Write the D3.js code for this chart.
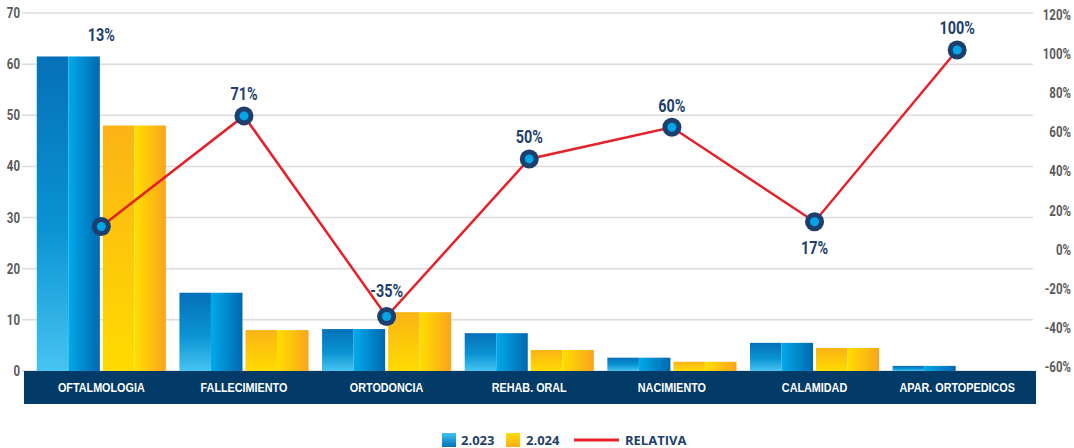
<!DOCTYPE html>
<html>
<head>
<meta charset="utf-8">
<script src="https://d3js.org/d3.v7.min.js"></script>
<style>
  html, body { margin: 0; padding: 0; background: #fff; }
  svg { display: block; }
</style>
</head>
<body>
<div id="chart"></div>
<script>
// data
const categories = ['OFTALMOLOGIA', 'FALLECIMIENTO', 'ORTODONCIA', 'REHAB. ORAL', 'NACIMIENTO', 'CALAMIDAD', 'APAR. ORTOPEDICOS'];
const values2023 = [61.5, 15.3, 8.2, 7.4, 2.6, 5.5, 1.0];
const values2024 = [48.0, 8.0, 11.5, 4.1, 1.8, 4.5, 0];
const relativa = [11.8, 68.4, -34.2, 46.4, 62.6, 14.3, 102.1];
const relativaLabels = ['13%', '71%', '-35%', '50%', '60%', '17%', '100%'];
const leftTicks = [0, 10, 20, 30, 40, 50, 60, 70];
const rightTicks = [-60, -40, -20, 0, 20, 40, 60, 80, 100, 120];
const seriesNames = ['2.023', '2.024'];

const W = 1074, H = 448;
const navy = '#023a68';
const labelNavy = '#1d3f6c';
const red = '#e52229';
const condFont = 'Roboto, "Liberation Sans", sans-serif';

const svg = d3.select('#chart').append('svg').attr('width', W).attr('height', H);
const defs = svg.append('defs');

function grad(id, x2, y2, stops) {
  const g = defs.append('linearGradient').attr('id', id)
    .attr('x1', 0).attr('y1', 0).attr('x2', x2).attr('y2', y2);
  stops.forEach(([o, c]) => g.append('stop').attr('offset', o).attr('stop-color', c));
}
grad('blueV', 0, 1, [[0, '#0570b8'], [0.55, '#0a93d3'], [1, '#47c4f1']]);
grad('blueH', 1, 0, [[0, '#00aaea'], [1, '#0068b0']]);
grad('yelV', 0, 1, [[0, '#fbb316'], [1, '#ffdb00']]);
grad('yelH', 1, 0, [[0, '#ffde00'], [1, '#f9a41c']]);
grad('legBlue', 0, 1, [[0, '#42c2f1'], [1, '#0070b8']]);
grad('legYel', 0, 1, [[0, '#ffdd00'], [1, '#fbaf17']]);

const x0 = d3.scaleBand().domain(categories).range([30, 1028.5]).paddingInner(0.095).paddingOuter(0.0475);
const x1 = d3.scaleBand().domain([0, 1]).range([0, x0.bandwidth()]).paddingInner(0.045);
const y = d3.scaleLinear().domain([0, 70]).range([371, 13]);
const yR = d3.scaleLinear().domain([-60, 120]).range([367, 15]);

// condensed look: squeeze text horizontally
function squeezed(sel, fx, fy, sx) {
  return sel.attr('x', 0).attr('y', 0)
    .attr('transform', (d, i) => `translate(${fx(d, i)},${fy(d, i)}) scale(${sx},1)`);
}

// gridlines
svg.append('g').selectAll('line').data(leftTicks).join('line')
  .attr('x1', 22).attr('x2', 1033)
  .attr('y1', d => y(d)).attr('y2', d => y(d))
  .attr('stroke', '#dcdcdc').attr('stroke-width', 1.5);

// left axis labels
squeezed(svg.append('g').selectAll('text').data(leftTicks).join('text'), () => 20, d => y(d), 0.82)
  .attr('dy', '0.36em')
  .attr('text-anchor', 'end').attr('font-family', condFont).attr('font-size', 14).attr('font-weight', 'bold')
  .attr('fill', '#5a5a5a').text(d => d);

// right axis labels
squeezed(svg.append('g').selectAll('text').data(rightTicks).join('text'), () => 1071, d => yR(d), 0.82)
  .attr('dy', '0.36em')
  .attr('text-anchor', 'end').attr('font-family', condFont).attr('font-size', 14).attr('font-weight', 'bold')
  .attr('fill', '#5a5a5a').text(d => d + '%');

// bars
const rows = categories.map((c, i) => ({ cat: c, vals: [values2023[i], values2024[i]] }));
const groups = svg.append('g').selectAll('g').data(rows).join('g')
  .attr('transform', d => `translate(${x0(d.cat)},0)`);

groups.each(function (d) {
  const g = d3.select(this);
  d.vals.forEach((v, k) => {
    if (v <= 0) return;
    const bx = x1(k), bw = x1.bandwidth(), top = y(v), h = y(0) - y(v);
    const half = bw / 2;
    g.append('rect').attr('x', bx).attr('y', top).attr('width', half).attr('height', h)
      .attr('fill', k === 0 ? 'url(#blueV)' : 'url(#yelV)');
    g.append('rect').attr('x', bx + half).attr('y', top).attr('width', bw - half).attr('height', h)
      .attr('fill', k === 0 ? 'url(#blueH)' : 'url(#yelH)');
  });
});

// category band
svg.append('rect').attr('x', 24).attr('y', 371).attr('width', 1012).attr('height', 33).attr('fill', navy);
squeezed(svg.append('g').selectAll('text').data(categories).join('text'),
  d => x0(d) + x0.bandwidth() / 2, () => 388, 0.9)
  .attr('dy', '0.36em')
  .attr('text-anchor', 'middle')
  .attr('font-family', '"Liberation Sans", Arial, sans-serif')
  .attr('font-size', 12).attr('font-weight', 'bold').attr('fill', '#fff')
  .text(d => d);

// line
const pts = categories.map((c, i) => ({
  cat: c, v: relativa[i], label: relativaLabels[i],
  x: x0(c) + x0.bandwidth() / 2, y: yR(relativa[i]),
  barTop: y(Math.max(values2023[i], values2024[i]))
}));
svg.append('path').datum(pts)
  .attr('d', d3.line().x(d => d.x).y(d => d.y))
  .attr('fill', 'none').attr('stroke', red).attr('stroke-width', 2.5);

svg.append('g').selectAll('circle').data(pts).join('circle')
  .attr('cx', d => d.x).attr('cy', d => d.y).attr('r', 9.5).attr('fill', '#1d3f6e');
svg.append('g').selectAll('circle').data(pts).join('circle')
  .attr('cx', d => d.x).attr('cy', d => d.y).attr('r', 4.5).attr('fill', '#00a6e8');

// value labels: below at local minima with room under them, otherwise above
function labelY(d, i) {
  const prev = pts[i - 1], next = pts[i + 1];
  const localMin = prev && next && prev.v > d.v && next.v > d.v;
  if (localMin && d.y + 40 < d.barTop) return d.y + 26;
  return Math.min(d.y, d.barTop) - 22;
}
squeezed(svg.append('g').selectAll('text').data(pts).join('text'), d => d.x, labelY, 0.8)
  .attr('dy', '0.36em').attr('text-anchor', 'middle')
  .attr('font-family', condFont)
  .attr('font-size', 18).attr('font-weight', 'bold').attr('fill', labelNavy)
  .text(d => d.label);

// legend
const leg = svg.append('g').attr('font-family', '"Open Sans", sans-serif')
  .attr('font-size', 13).attr('font-weight', 'bold').attr('fill', labelNavy);
leg.append('rect').attr('x', 442).attr('y', 433).attr('width', 14).attr('height', 14).attr('fill', 'url(#legBlue)');
leg.append('text').attr('x', 461).attr('y', 440).attr('dy', '0.36em').text(seriesNames[0]);
leg.append('rect').attr('x', 506).attr('y', 433).attr('width', 14).attr('height', 14).attr('fill', 'url(#legYel)');
leg.append('text').attr('x', 526).attr('y', 440).attr('dy', '0.36em').text(seriesNames[1]);
leg.append('line').attr('x1', 574).attr('x2', 619).attr('y1', 440).attr('y2', 440)
  .attr('stroke', red).attr('stroke-width', 3);
leg.append('text').attr('x', 625).attr('y', 440).attr('dy', '0.36em').text('RELATIVA');
</script>
</body>
</html>
